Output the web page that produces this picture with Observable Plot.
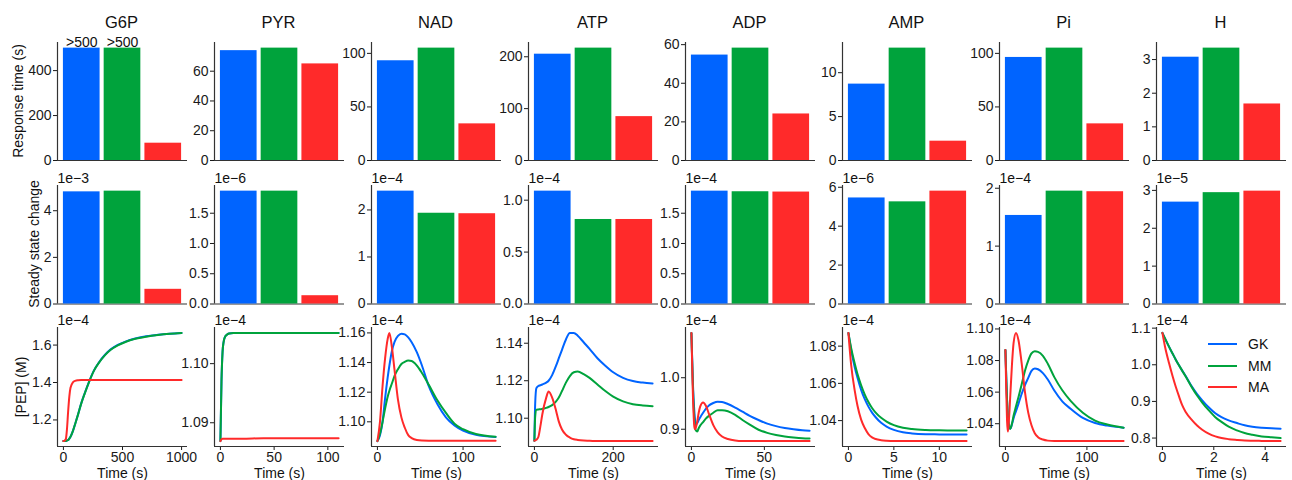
<!DOCTYPE html>
<html><head><meta charset="utf-8">
<script src="https://cdn.jsdelivr.net/npm/d3@7"></script>
<script src="https://cdn.jsdelivr.net/npm/@observablehq/plot@0.6"></script>
<style>
body{margin:0;background:#fff;}
#fig{position:relative;width:1292px;height:480px;overflow:hidden;font-family:"Liberation Sans",Arial,Helvetica,sans-serif;color:#111;background:#fff;}
.title{position:absolute;font-size:16.5px;transform:translate(-50%,-50%);white-space:nowrap;}
.ylab{position:absolute;font-size:14px;transform:translate(-50%,-50%) rotate(-90deg);white-space:nowrap;}
.leg{position:absolute;font-size:14px;display:flex;align-items:center;white-space:nowrap;transform:translateY(-50%);}
.leg span.sw{display:inline-block;width:29px;height:2px;margin-right:11px;}
</style></head><body><div id="fig"></div>
<script>
// ---------- DATA ----------
const species = ["G6P", "PYR", "NAD", "ATP", "ADP", "AMP", "Pi", "H"];
const models = ["GK", "MM", "MA"];
const modelColors = ["#0064ff", "#00a33c", "#ff2a2a"];

// Row 1: response time (s); G6P GK/MM are truncated at 500 (">500")
const responseGK = [500, 73.8, 93.1, 205, 54.6, 8.7, 96.2, 3.07];
const responseMM = [500, 75.5, 104.9, 216.7, 58.2, 12.8, 104.9, 3.34];
const responseMA = [77, 64.9, 34.2, 84.6, 24.1, 2.2, 34.2, 1.68];
const responseNoteGK = [">500", "", "", "", "", "", "", ""];
const responseNoteMM = [">500", "", "", "", "", "", "", ""];
const responseTicks = [[0,200,400],[0,20,40,60],[0,50,100],[0,100,200],[0,20,40,60],[0,5,10],[0,50,100],[0,1,2,3]];

// Row 2: steady state change (mantissa, times 10^exponent)
const steadyGK = [4.81, 1.865, 2.40, 1.087, 1.865, 5.45, 1.53, 2.69];
const steadyMM = [4.84, 1.865, 1.93, 0.814, 1.855, 5.25, 1.95, 2.94];
const steadyMA = [0.63, 0.137, 1.92, 0.814, 1.85, 5.8, 1.94, 2.98];
const steadyExponent = [-3, -6, -4, -4, -4, -6, -4, -5];
const steadyTicks = [[0,2,4],[0,0.5,1,1.5],[0,1,2],[0,0.5,1],[0,0.5,1,1.5],[0,2,4,6],[0,1,2],[0,1,2,3]];
const steadyDecimals = [0, 1, 0, 1, 1, 0, 0, 0];

// Row 3: [PEP] time courses (units of 1e-4 M)
const tG6P  = [0,10,20,30,40,50,60,80,100,125,150,180,215,260,300,350,400,460,530,600,700,800,900,1000];
const gkG6P = [1.087,1.087,1.088,1.090,1.093,1.100,1.110,1.140,1.180,1.232,1.287,1.342,1.401,1.466,1.507,1.547,1.577,1.601,1.620,1.634,1.647,1.655,1.661,1.665];
const mmG6P = [1.087,1.087,1.088,1.090,1.093,1.100,1.110,1.140,1.180,1.231,1.286,1.341,1.400,1.465,1.505,1.545,1.575,1.599,1.618,1.632,1.645,1.654,1.660,1.664];
const maG6P = [1.087,1.089,1.097,1.150,1.245,1.325,1.372,1.401,1.409,1.412,1.413,1.413,1.413,1.413,1.413,1.413,1.413,1.413,1.413,1.413,1.413,1.413,1.413,1.413];

const tPYR  = [0,1,2,3,4,6,8,12,20,40,60,80,110];
const gkPYR = [1.0869,1.0970,1.1020,1.1037,1.1044,1.1049,1.1051,1.1052,1.1052,1.1052,1.1052,1.1052,1.1052];
const mmPYR = [1.0869,1.0970,1.1020,1.1037,1.1044,1.1049,1.1051,1.1052,1.1052,1.1052,1.1052,1.1052,1.1052];
const maPYR = [1.0869,1.0872,1.0873,1.0873,1.0873,1.0873,1.0873,1.0873,1.0873,1.0874,1.0874,1.0874,1.0874];

const tNAD  = [0,3,6,9,12,14,17,20,24,28,32,36,40,46,52,60,70,80,90,100,115,138];
const gkNAD = [1.087,1.091,1.100,1.116,1.130,1.138,1.148,1.154,1.158,1.1595,1.159,1.157,1.1537,1.147,1.138,1.124,1.112,1.103,1.0975,1.094,1.0912,1.0898];
const mmNAD = [1.087,1.092,1.100,1.109,1.117,1.121,1.126,1.131,1.1355,1.139,1.1405,1.1413,1.141,1.138,1.133,1.125,1.1145,1.106,1.0987,1.095,1.0918,1.0900];
const maNAD = [1.087,1.100,1.124,1.143,1.156,1.160,1.150,1.135,1.115,1.103,1.096,1.091,1.089,1.0877,1.0874,1.0873,1.0873,1.0873,1.0873,1.0873,1.0873,1.0873];

const tATP  = [0,2,5,10,15,20,30,36,45,55,62,70,80,90,100,110,125,140,160,180,200,225,250,275,300];
const gkATP = [1.088,1.108,1.116,1.1172,1.1176,1.118,1.119,1.120,1.123,1.128,1.132,1.1365,1.142,1.1455,1.1455,1.144,1.1405,1.137,1.132,1.128,1.1245,1.1215,1.1198,1.119,1.1185];
const mmATP = [1.088,1.101,1.1045,1.1047,1.1048,1.105,1.1055,1.106,1.107,1.109,1.111,1.1145,1.119,1.1225,1.1245,1.1249,1.1235,1.1215,1.118,1.1145,1.1115,1.109,1.1075,1.1068,1.1064];
const maATP = [1.088,1.0882,1.0885,1.090,1.0955,1.102,1.111,1.1142,1.111,1.104,1.0982,1.094,1.0912,1.0897,1.0888,1.0884,1.0881,1.088,1.0878,1.0878,1.0878,1.0878,1.0878,1.0878,1.0878];

const tADP  = [0,1,2,2.5,3,4,5,6,8,10,12,15,18,21,25,30,35,40,46,52,58,64,70,76,81];
const gkADP = [1.087,0.990,0.935,0.918,0.909,0.912,0.918,0.923,0.932,0.940,0.946,0.951,0.9535,0.953,0.949,0.942,0.934,0.926,0.918,0.911,0.906,0.9025,0.900,0.898,0.897];
const mmADP = [1.087,0.985,0.920,0.905,0.898,0.8955,0.902,0.907,0.914,0.921,0.926,0.932,0.937,0.937,0.935,0.928,0.918,0.909,0.899,0.893,0.889,0.886,0.884,0.8825,0.882];
const maADP = [1.087,0.970,0.905,0.900,0.903,0.915,0.932,0.944,0.952,0.945,0.930,0.908,0.894,0.886,0.881,0.878,0.877,0.877,0.877,0.877,0.877,0.877,0.877,0.877,0.877];

const tAMP  = [0,0.3,0.7,1.0,1.4,1.8,2.2,2.6,3.0,3.6,4.2,5.0,6.0,7.0,8.5,10,11.5,13];
const gkAMP = [1.0871,1.078,1.0685,1.063,1.0565,1.0515,1.0475,1.0443,1.0418,1.0388,1.0368,1.035,1.0337,1.0331,1.0327,1.0326,1.0325,1.0325];
const mmAMP = [1.0871,1.079,1.0705,1.065,1.059,1.054,1.050,1.0468,1.0443,1.0415,1.0395,1.0376,1.0362,1.0355,1.035,1.0348,1.0347,1.0347];
const maAMP = [1.0871,1.070,1.056,1.048,1.0405,1.036,1.0328,1.031,1.0301,1.0295,1.0292,1.029,1.029,1.029,1.029,1.029,1.029,1.029];

const tPi  = [0,1,2,3,4,6,8,10,13,16,20,24,28,32,36,40,46,52,60,70,80,95,110,125,145];
const gkPi = [1.0867,1.070,1.055,1.045,1.040,1.0368,1.0395,1.0435,1.048,1.0526,1.059,1.0645,1.069,1.0735,1.075,1.0745,1.072,1.068,1.061,1.054,1.0495,1.0437,1.0405,1.0388,1.0375];
const mmPi = [1.0867,1.070,1.055,1.045,1.040,1.0368,1.040,1.045,1.051,1.0568,1.065,1.0735,1.080,1.0845,1.0859,1.0855,1.083,1.078,1.0695,1.061,1.0545,1.047,1.042,1.0395,1.0375];
const maPi = [1.0867,1.062,1.042,1.035,1.040,1.058,1.077,1.091,1.0975,1.093,1.078,1.060,1.047,1.039,1.034,1.0315,1.030,1.0293,1.029,1.029,1.029,1.029,1.029,1.029,1.029];

const tH  = [0,0.1,0.26,0.4,0.52,0.65,0.77,0.9,1.16,1.35,1.55,1.8,2.06,2.3,2.58,2.9,3.2,3.5,3.87,4.25,4.6];
const gkH = [1.087,1.072,1.049,1.030,1.014,0.998,0.984,0.970,0.939,0.920,0.903,0.884,0.8675,0.857,0.8484,0.841,0.8347,0.831,0.8283,0.8265,0.8255];
const mmH = [1.087,1.072,1.049,1.030,1.014,0.998,0.984,0.969,0.937,0.916,0.897,0.876,0.857,0.844,0.831,0.821,0.8136,0.809,0.8045,0.802,0.800];
const maH = [1.087,1.050,1.004,0.968,0.940,0.913,0.8896,0.872,0.848,0.834,0.8228,0.812,0.8045,0.800,0.797,0.795,0.7935,0.7928,0.7922,0.7919,0.7917];

const pepExponent = -4;
const pepYTicks = [[1.2,1.4,1.6],[1.09,1.10],[1.10,1.12,1.14,1.16],[1.10,1.12,1.14],[0.9,1.0],[1.04,1.06,1.08],[1.04,1.06,1.08,1.10],[0.8,0.9,1.0,1.1]];
const pepYDecimals = [1, 2, 2, 2, 1, 2, 2, 1];
const timeTicks = [[0,500,1000],[0,50,100],[0,100],[0,200],[0,50],[0,5,10],[0,100],[0,2,4]];

const rowLabels = ["Response time (s)", "Steady state change", "[PEP] (M)"];

// ---------- LAYOUT ----------
const pepSeries = [
  [tG6P, gkG6P, mmG6P, maG6P], [tPYR, gkPYR, mmPYR, maPYR], [tNAD, gkNAD, mmNAD, maNAD],
  [tATP, gkATP, mmATP, maATP], [tADP, gkADP, mmADP, maADP], [tAMP, gkAMP, mmAMP, maAMP],
  [tPi, gkPi, mmPi, maPi], [tH, gkH, mmH, maH]
];
const fig = document.getElementById("fig");
const FONT = '"Liberation Sans", Arial, Helvetica, sans-serif';
const AX = "#333";
const W = 130;
const colX = i => 56.5 + 157 * i;
const rowsGeom = [{top: 42, h: 118}, {top: 184.5, h: 118.5}, {top: 327, h: 119}];
const ML = 50, MR = 14, MT = 24;
const sup = e => "1e" + (e < 0 ? "\u2212" + (-e) : e);
const colorScale = {domain: models, range: modelColors};

function place(node, left, top) {
  node.style.position = "absolute";
  node.style.left = left + "px";
  node.style.top = top + "px";
  fig.appendChild(node);
}
const baseStyle = {fontSize: "14px", fontFamily: FONT, background: "transparent", color: "#1a1a1a", overflow: "visible"};

function barPanel(i, r, vals, ticks, dec, notes, exponent) {
  const g = rowsGeom[r];
  const data = models.map((m, j) => ({k: j, model: m, value: vals[j], note: notes ? notes[j] : ""}));
  const ymax = 1.05 * d3.max(vals);
  const xd = [-0.595, 2.595];
  const marks = [
    Plot.ruleY([0], {stroke: AX, strokeWidth: 1.2}),
    Plot.rectY(data, {x1: d => d.k - 0.45, x2: d => d.k + 0.45, y1: 0, y2: "value", fill: "model"}),
    Plot.ruleX([xd[0]], {stroke: AX, strokeWidth: 1.2})
  ];
  if (notes) marks.push(Plot.text(data.filter(d => d.note), {x: "k", y: "value", text: "note", lineAnchor: "bottom", dy: -1, fontSize: 14, fill: "#111"}));
  if (exponent !== null) marks.push(Plot.text([sup(exponent)], {frameAnchor: "top-left", textAnchor: "start", lineAnchor: "bottom", dy: -3, fontSize: 14, fill: "#111"}));
  const p = Plot.plot({
    width: ML + W + MR, height: MT + g.h + 4,
    marginLeft: ML, marginRight: MR, marginTop: MT, marginBottom: 4,
    style: baseStyle,
    x: {domain: xd, axis: null},
    y: {domain: [0, ymax], ticks, tickFormat: d3.format("." + dec + "f"), tickSize: 4, tickPadding: 2, label: null},
    color: colorScale,
    marks
  });
  place(p, colX(i) - ML, g.top - MT);
}

function linePanel(i) {
  const g = rowsGeom[2];
  const [t, ...ys] = pepSeries[i];
  const rows = [];
  ys.forEach((arr, j) => arr.forEach((v, k) => rows.push({t: t[k], v, model: models[j]})));
  const T = t[t.length - 1];
  const all = ys.flat();
  const lo = d3.min(all), hi = d3.max(all), sp = hi - lo;
  const yd = [lo - 0.05 * sp, hi + 0.05 * sp];
  const xd = [-0.05 * T, 1.05 * T];
  const MB = 44;
  const p = Plot.plot({
    width: ML + W + MR, height: MT + g.h + MB,
    marginLeft: ML, marginRight: MR, marginTop: MT, marginBottom: MB,
    style: baseStyle,
    x: {domain: xd, ticks: timeTicks[i], tickFormat: d3.format("d"), tickSize: 4, tickPadding: 2, label: null},
    y: {domain: yd, ticks: pepYTicks[i], tickFormat: d3.format("." + pepYDecimals[i] + "f"), tickSize: 4, tickPadding: 2, label: null},
    color: colorScale,
    marks: [
      Plot.line(rows, {x: "t", y: "v", z: "model", stroke: "model", strokeWidth: 2, curve: "monotone-x"}),
      Plot.ruleX([xd[0]], {stroke: AX, strokeWidth: 1.2}),
      Plot.ruleY([yd[0]], {stroke: AX, strokeWidth: 1.2}),
      Plot.text([sup(pepExponent)], {frameAnchor: "top-left", textAnchor: "start", lineAnchor: "bottom", dy: -3, fontSize: 14, fill: "#111"}),
      Plot.text(["Time (s)"], {frameAnchor: "bottom", lineAnchor: "middle", dy: 27, fontSize: 14, fill: "#111"})
    ]
  });
  place(p, colX(i) - ML, g.top - MT);
}

species.forEach((s, i) => {
  const tdiv = document.createElement("div");
  tdiv.className = "title";
  tdiv.textContent = s;
  place(tdiv, colX(i) + W / 2, 21.5);
  barPanel(i, 0, [responseGK[i], responseMM[i], responseMA[i]], responseTicks[i], 0,
           (responseNoteGK[i] || responseNoteMM[i]) ? [responseNoteGK[i], responseNoteMM[i], ""] : null, null);
  barPanel(i, 1, [steadyGK[i], steadyMM[i], steadyMA[i]], steadyTicks[i], steadyDecimals[i], null, steadyExponent[i]);
  linePanel(i);
});

[[17.5, 101], [34, 243.5], [21, 387]].forEach(([x, y], k) => {
  const d = document.createElement("div");
  d.className = "ylab";
  d.textContent = rowLabels[k];
  place(d, x, y);
});

// Legend (inside H time-course panel)
[344, 365.5, 387].forEach((y, j) => {
  const d = document.createElement("div");
  d.className = "leg";
  const sw = document.createElement("span");
  sw.className = "sw";
  sw.style.background = modelColors[j];
  d.appendChild(sw);
  d.appendChild(document.createTextNode(models[j]));
  place(d, 1208, y);
});
</script></body></html>
